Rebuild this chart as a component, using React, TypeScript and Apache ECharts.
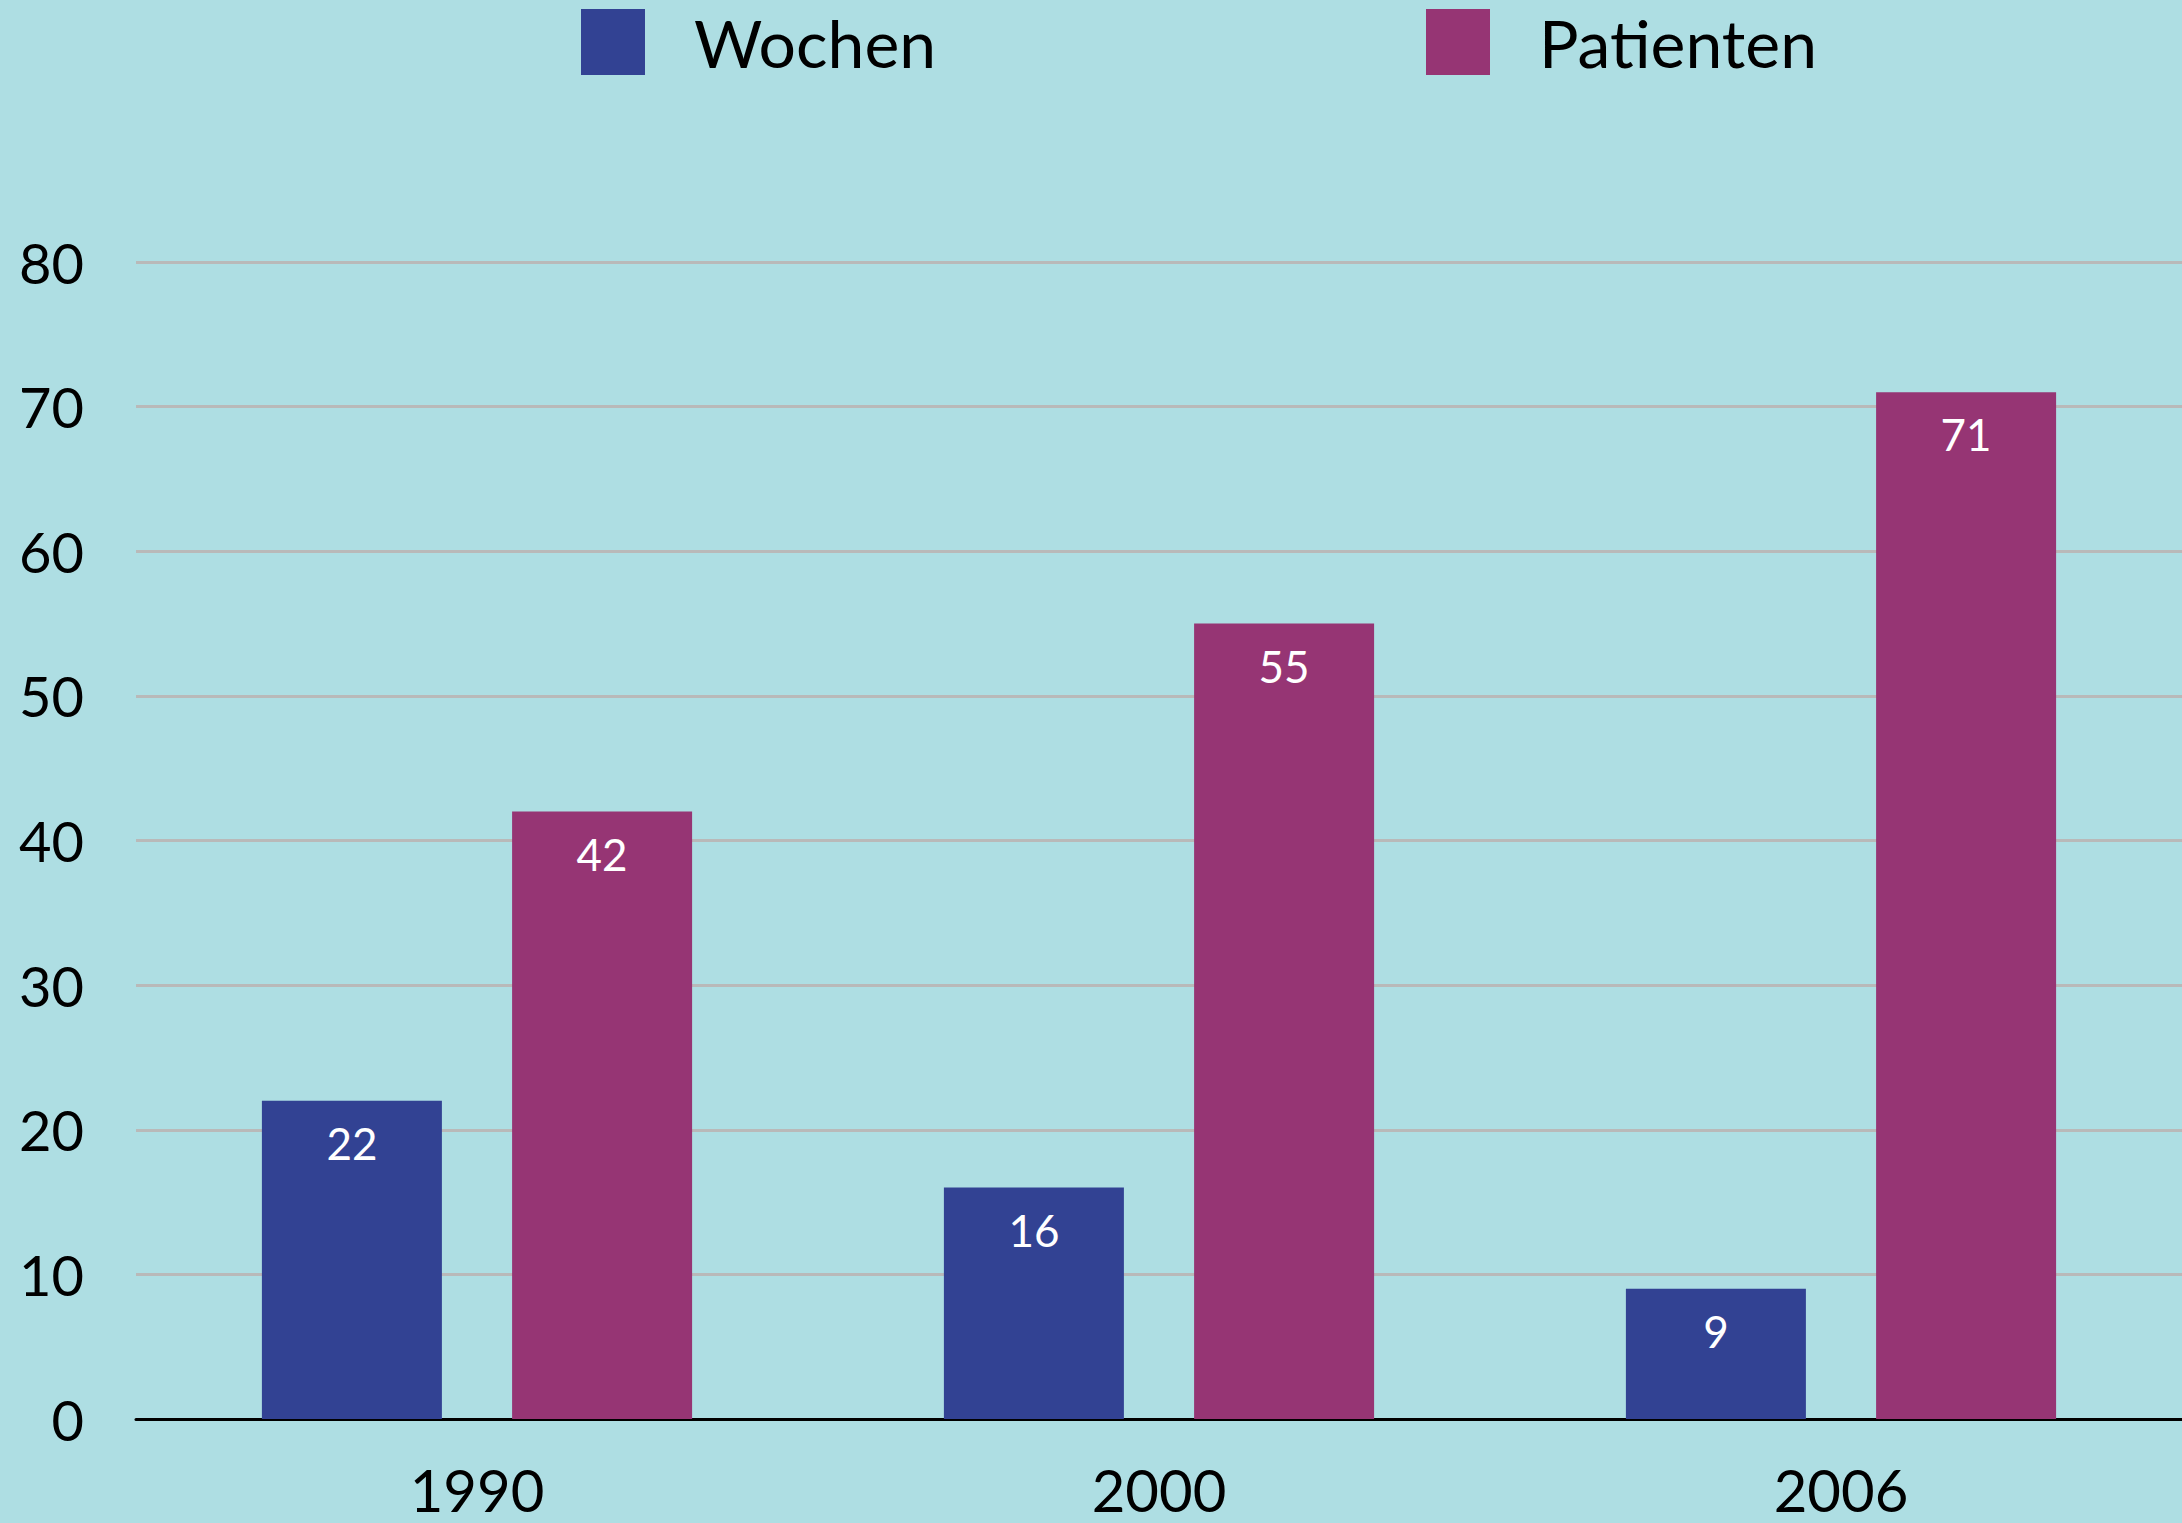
import React, { useEffect, useRef } from "react";
import * as echarts from "echarts";

const categories = ["1990", "2000", "2006"];
const wochen = [22, 16, 9];
const patienten = [42, 55, 71];
const seriesNames = ["Wochen", "Patienten"];

const BG = "#AEDEE3";
const BLUE = "#324293";
const MAGENTA = "#963574";
const FONT = "Lato";

export default function App() {
  const ref = useRef<HTMLDivElement>(null);
  useEffect(() => {
    document.body.style.margin = "0";
    const chart = echarts.init(ref.current!, undefined, { renderer: "svg" });
    const labelStyle = {
      show: true,
      position: "insideTop",
      distance: 20,
      color: "#ffffff",
      fontSize: 44,
      fontFamily: FONT,
    };
    const legendText = { fontSize: 66, color: "#000", fontFamily: FONT, padding: [0, 0, 0, 44] };
    chart.setOption({
      animation: false,
      backgroundColor: BG,
      textStyle: { fontFamily: FONT },
      legend: [
        {
          data: [seriesNames[0]],
          left: 576,
          top: 4,
          itemWidth: 64,
          itemHeight: 66,
          icon: "rect",
          textStyle: legendText,
        },
        {
          data: [seriesNames[1]],
          left: 1421,
          top: 4,
          itemWidth: 64,
          itemHeight: 66,
          icon: "rect",
          textStyle: legendText,
        },
      ],
      grid: { left: 136, top: 262, width: 2062, bottom: 104, containLabel: false },
      xAxis: {
        type: "category",
        data: categories,
        axisLine: { show: true, lineStyle: { color: "#000", width: 3 } },
        axisTick: { show: false },
        axisLabel: { fontSize: 58, color: "#000", fontFamily: FONT, margin: 41 },
      },
      yAxis: {
        type: "value",
        min: 0,
        max: 80,
        interval: 10,
        axisLine: { show: false },
        axisTick: { show: false },
        axisLabel: { fontSize: 56, color: "#000", fontFamily: FONT, margin: 52 },
        splitLine: { show: true, lineStyle: { color: "#B9B9B9", width: 3 } },
      },
      series: [
        {
          name: seriesNames[0],
          type: "bar",
          data: wochen,
          itemStyle: { color: BLUE },
          barWidth: 180,
          barGap: "39%",
          label: labelStyle,
        },
        {
          name: seriesNames[1],
          type: "bar",
          data: patienten,
          itemStyle: { color: MAGENTA },
          barWidth: 180,
          label: labelStyle,
        },
      ],
    });
    return () => chart.dispose();
  }, []);
  return <div ref={ref} style={{ width: 2182, height: 1523, position: "fixed", left: 0, top: 0 }} />;
}
